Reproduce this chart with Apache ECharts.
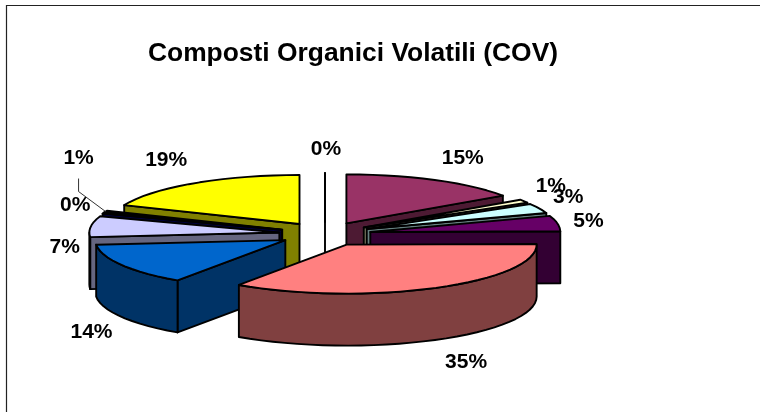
<!DOCTYPE html>
<html>
<head>
<meta charset="utf-8">
<style>
	html, body { margin: 0; padding: 0; background: #fff; }
	#chart { width: 760px; height: 412px; }
</style>
<script src="https://cdn.jsdelivr.net/npm/echarts@6/dist/echarts.min.js"></script>
</head>
<body>
<div id="chart"></div>
<script>
var chartTitle = 'Composti Organici Volatili (COV)';
// clockwise from 12 o'clock; labels only show the rounded share
var shares = [0, 15.4, 1.1, 3.2, 5.1, 34.8, 13.9, 6.9, 0.3, 0.6, 18.7];
var sliceColors = ['#9999FF', '#993366', '#FFFFCC', '#CCFFFF', '#660066', '#FF8080', '#0066CC', '#CCCCFF', '#000080', '#FF00FF', '#FFFF00'];
// where each label sits, relative to the outer middle of its slice
var labelNudge = [[1, -24], [28, -22], [27, -15], [29, -11], [31, -2], [30, 74], [-30, 67], [-26, 21], [-28, -8], [-27, -53], [-28, -23]];
var leaderSlice = 9;

var cx = 325, cy = 234;
var rx = 190, ry = 49;
var explodeX = 46, explodeY = 12;
var depth = 52;

var total = shares.reduce(function (a, b) { return a + b; }, 0);

function toAngle(v) {
	return echarts.number.linearMap(v, [0, total], [0, 360]);
}

var rows = [];
var cum = 0;
shares.forEach(function (v, i) {
	rows.push([i, toAngle(cum), toAngle(cum + v), toAngle(cum + v / 2)]);
	cum += v;
});
// back slices first, the front ones paint over them
var paintOrder = rows.slice().sort(function (a, b) {
	return -Math.cos(a[3] * Math.PI / 180) + Math.cos(b[3] * Math.PI / 180);
});

function darker(hex) {
	var c = echarts.color.parse(hex);
	return 'rgb(' + Math.round(c[0] / 2) + ',' + Math.round(c[1] / 2) + ',' + Math.round(c[2] / 2) + ')';
}

function apexOf(mid) {
	var m = mid * Math.PI / 180;
	return [cx + explodeX * Math.sin(m), cy - explodeY * Math.cos(m)];
}

function rimPoint(apex, deg, drop) {
	var a = deg * Math.PI / 180;
	return [apex[0] + rx * Math.sin(a), apex[1] - ry * Math.cos(a) + (drop || 0)];
}

function arcPoints(apex, from, to, drop) {
	var pts = [];
	var steps = Math.max(1, Math.ceil((to - from) / 4));
	for (var s = 0; s <= steps; s++) {
		pts.push(rimPoint(apex, from + (to - from) * s / steps, drop));
	}
	return pts;
}

function face(points, fill) {
	return {
		type: 'polygon',
		shape: { points: points },
		style: { fill: fill, stroke: '#000', lineWidth: 1.9, lineJoin: 'round' }
	};
}

function wall(apex, deg, fill) {
	return face([
		apex,
		rimPoint(apex, deg),
		rimPoint(apex, deg, depth),
		[apex[0], apex[1] + depth]
	], fill);
}

function renderSlice(params, api) {
	var idx = api.value(0);
	var a1 = api.value(1), a2 = api.value(2), mid = api.value(3);
	var apex = apexOf(mid);
	var fill = sliceColors[idx];
	var side = darker(fill);
	var children = [];

	if (Math.sin(a1 * Math.PI / 180) < -0.001) {
		children.push(wall(apex, a1, side));
	}
	if (Math.sin(a2 * Math.PI / 180) > 0.001 || a2 === a1) {
		children.push(wall(apex, a2, side));
	}
	var from = Math.max(a1, 90), to = Math.min(a2, 270);
	if (to > from) {
		children.push(face(arcPoints(apex, from, to).concat(arcPoints(apex, from, to, depth).reverse()), side));
	}
	children.push(face([apex].concat(arcPoints(apex, a1, a2)), fill));
	return { type: 'group', children: children };
}

function labelSpot(idx) {
	var mid = rows[idx][3];
	var outer = rimPoint(apexOf(mid), mid);
	return [outer, [outer[0] + labelNudge[idx][0], outer[1] + labelNudge[idx][1]]];
}

function renderLabel(params, api) {
	var idx = api.value(0);
	var spot = labelSpot(idx);
	var children = [];
	if (idx === leaderSlice) {
		children.push({
			type: 'polyline',
			shape: { points: [spot[0], [spot[1][0], spot[1][1] + 33], [spot[1][0], spot[1][1] + 20]] },
			style: { fill: null, stroke: '#333', lineWidth: 1 }
		});
	}
	children.push({
		type: 'text',
		style: {
			x: spot[1][0],
			y: spot[1][1],
			text: Math.round(shares[idx]) + '%',
			font: 'bold 21px "Liberation Sans", Arial, sans-serif',
			fill: '#000',
			align: 'center',
			verticalAlign: 'middle'
		}
	});
	return { type: 'group', children: children };
}

var chart = echarts.init(document.getElementById('chart'));
chart.setOption({
	animation: false,
	backgroundColor: '#fff',
	title: {
		text: chartTitle,
		left: 348,
		top: 36,
		textAlign: 'center',
		textStyle: { fontFamily: '"Liberation Sans", Arial, sans-serif', fontWeight: 'bold', fontSize: 26.4, color: '#000' }
	},
	graphic: [{
		type: 'polyline',
		shape: { points: [[6.5, 412], [6.5, 5.5], [760, 5.5]] },
		style: { fill: null, stroke: '#222', lineWidth: 1.2 }
	}],
	series: [
		{ type: 'custom', coordinateSystem: 'none', renderItem: renderSlice, data: paintOrder, silent: true },
		{ type: 'custom', coordinateSystem: 'none', renderItem: renderLabel, data: rows, silent: true }
	]
});
</script>
</body>
</html>
